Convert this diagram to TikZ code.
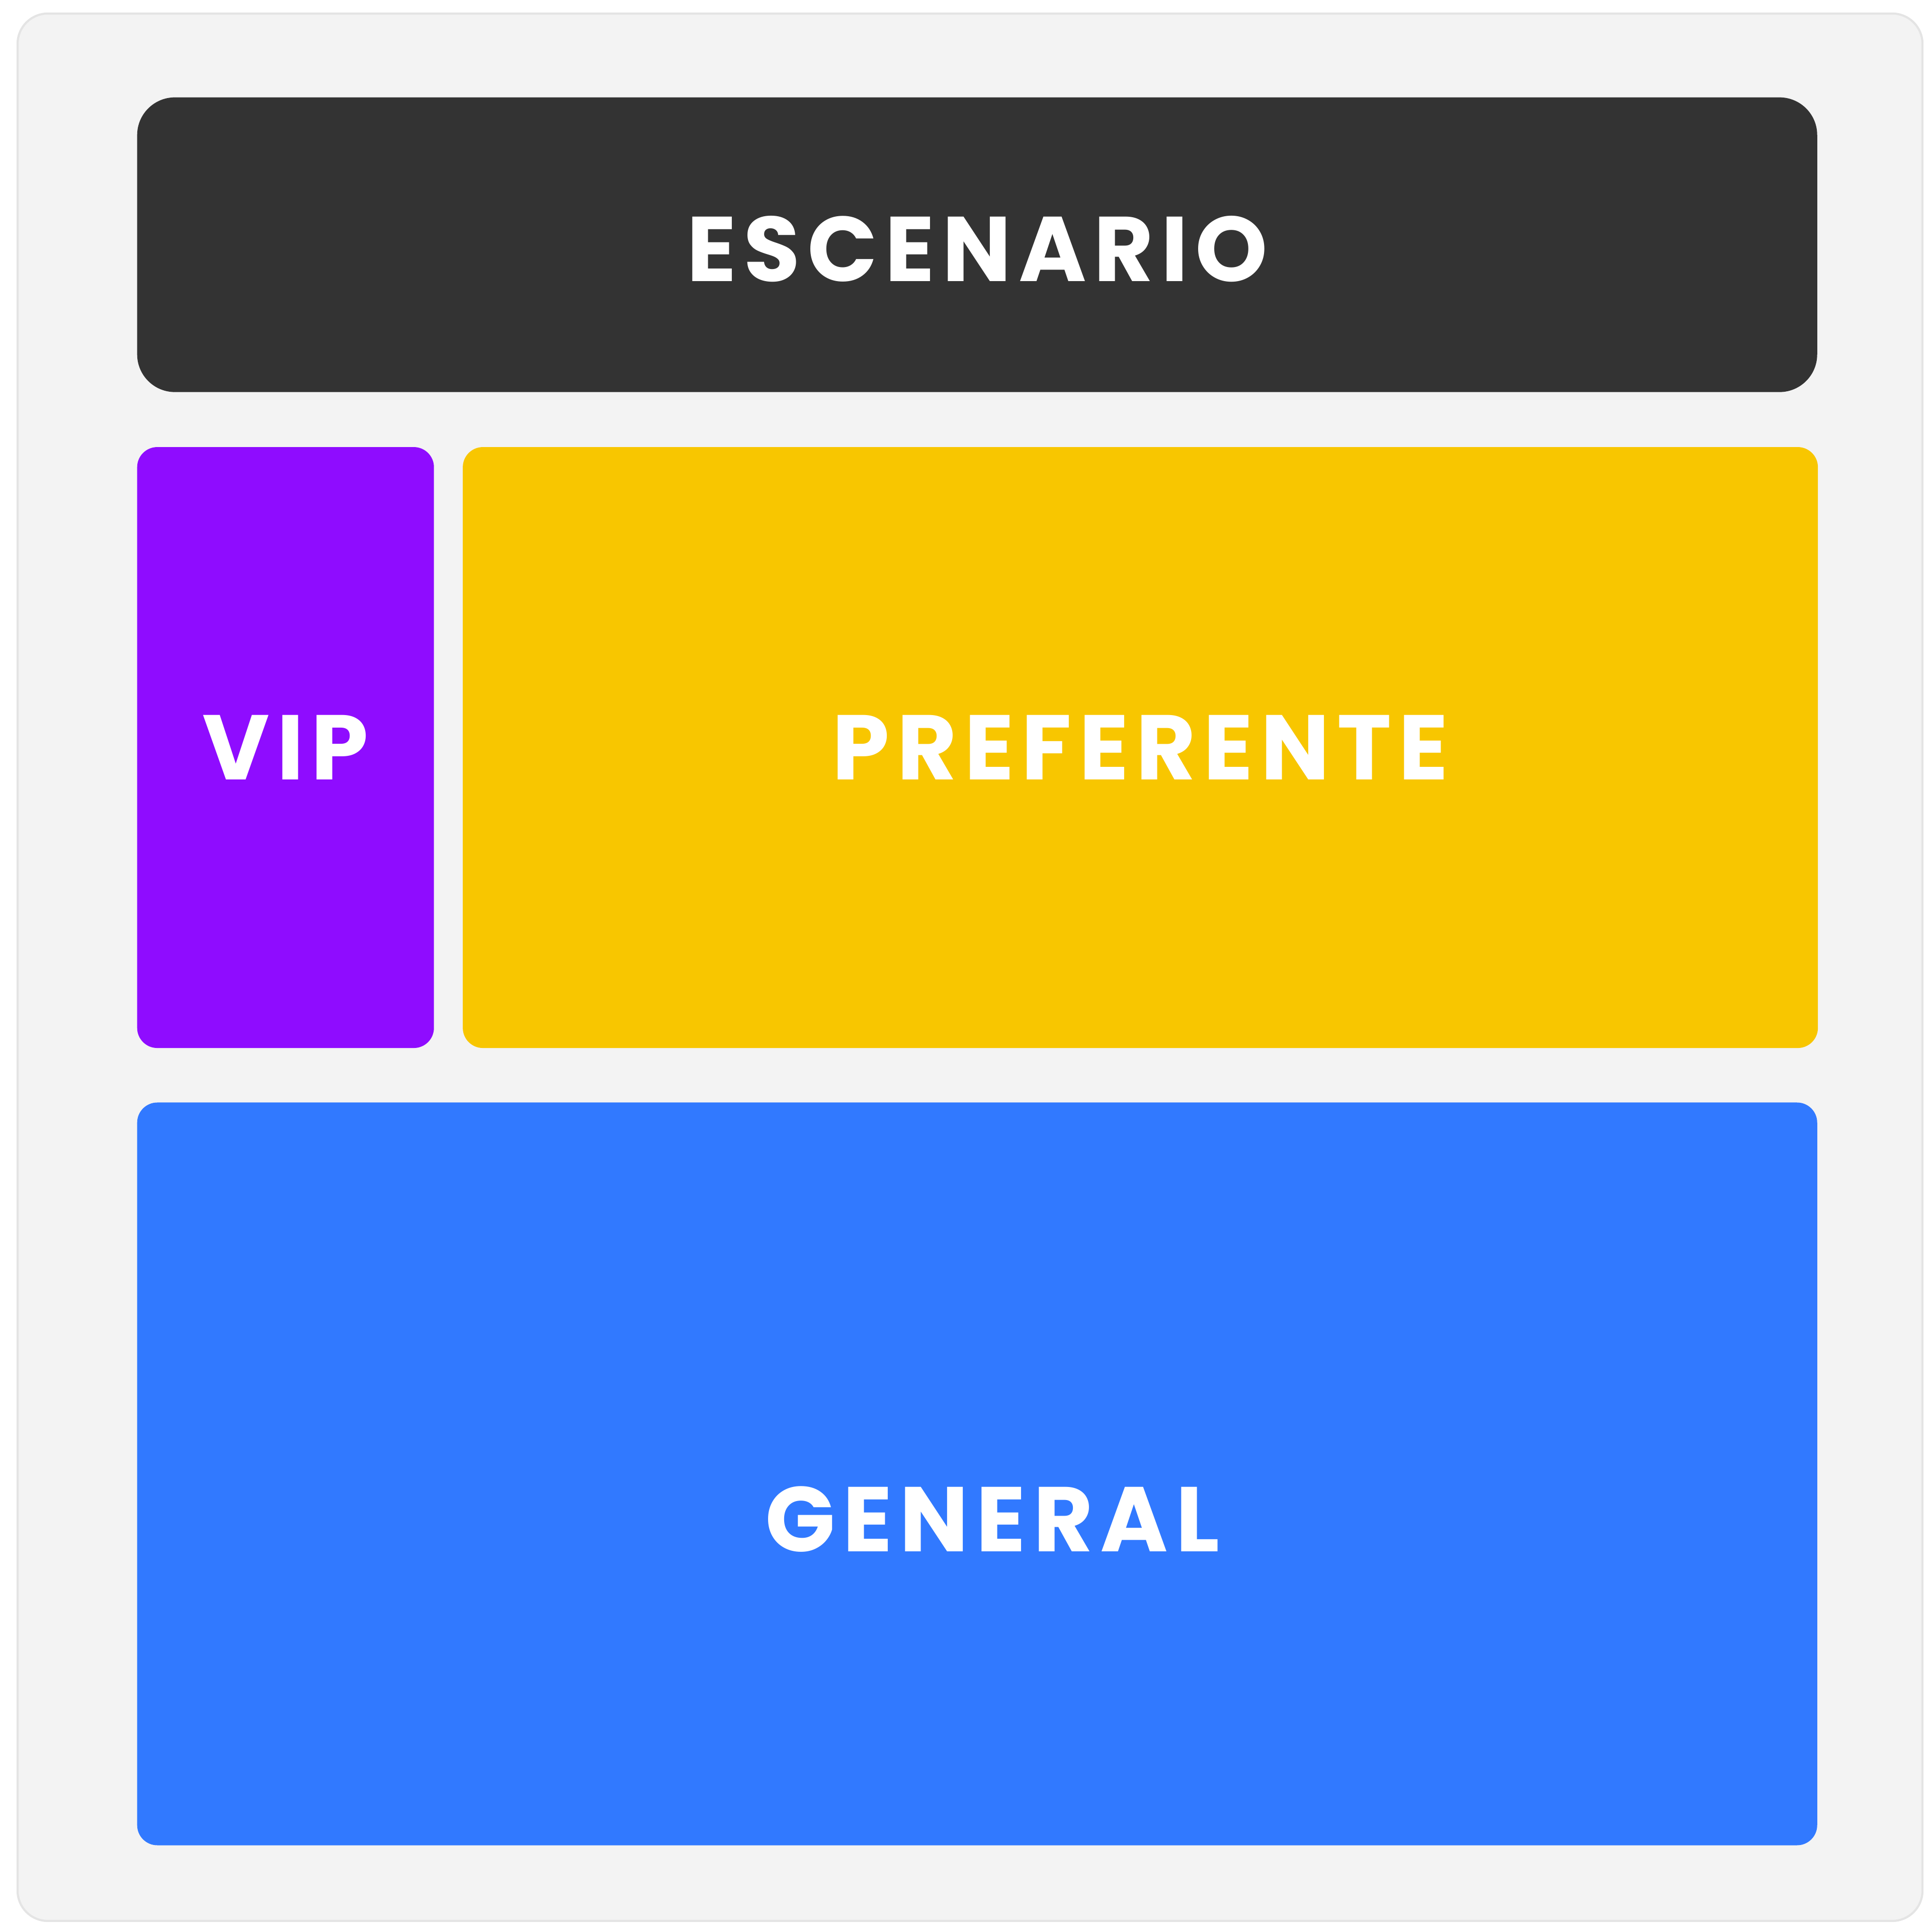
\documentclass[tikz,border=0pt]{standalone}
\usepackage{fontspec}
\setmainfont{Poppins}
\newfontfamily\rotulofont{Poppins}[LetterSpace=8]
\usetikzlibrary{positioning}
\definecolor{fondo}{HTML}{F3F3F3}
\definecolor{borde}{HTML}{E4E4E4}
\definecolor{escena}{HTML}{333333}
\definecolor{morado}{HTML}{8F0CFF}
\definecolor{amarillo}{HTML}{F8C600}
\definecolor{azul}{HTML}{3179FF}
\tikzset{
    zona/.style={rounded corners=4mm, inner sep=0pt, anchor=north west}, % bloque de cada zona
    rotulo/.style={text=white, inner sep=0pt, font=\rotulofont\fontsize{52}{62}\selectfont\bfseries} % texto de cada zona
}

\begin{document}
\begin{tikzpicture}
    \useasboundingbox (0,0) rectangle (38.4,38.4);
    \draw[fill=fondo, draw=borde, line width=1.2pt, rounded corners=6mm] (0.35,0.2) rectangle (38.22,38.13);

    \node[zona, fill=escena, rounded corners=7.5mm, minimum width=33.4cm, minimum height=5.86cm] (escenario) at (2.72,36.47) {};
    \node[zona, fill=morado, minimum width=5.9cm, minimum height=11.95cm, below=1.08cm of escenario.south west, anchor=north west] (vip) {};
    \node[zona, fill=amarillo, minimum width=26.94cm, minimum height=11.95cm, right=0.56cm of vip.north east, anchor=north west] (preferente) {};
    \node[zona, fill=azul, minimum width=33.4cm, minimum height=14.77cm, below=1.07cm of vip.south west, anchor=north west] (general) {};

    \node[rotulo] (t-escenario) at ([yshift=-0.08cm]escenario.center) {ESCENARIO};
    \node[rotulo] (t-vip) at (vip) {VIP};
    \node[rotulo] (t-preferente) at (preferente) {PREFERENTE};
    \node[rotulo] (t-general) at ([xshift=0.3cm, yshift=-0.9cm]general.center) {GENERAL};
\end{tikzpicture}
\end{document}
